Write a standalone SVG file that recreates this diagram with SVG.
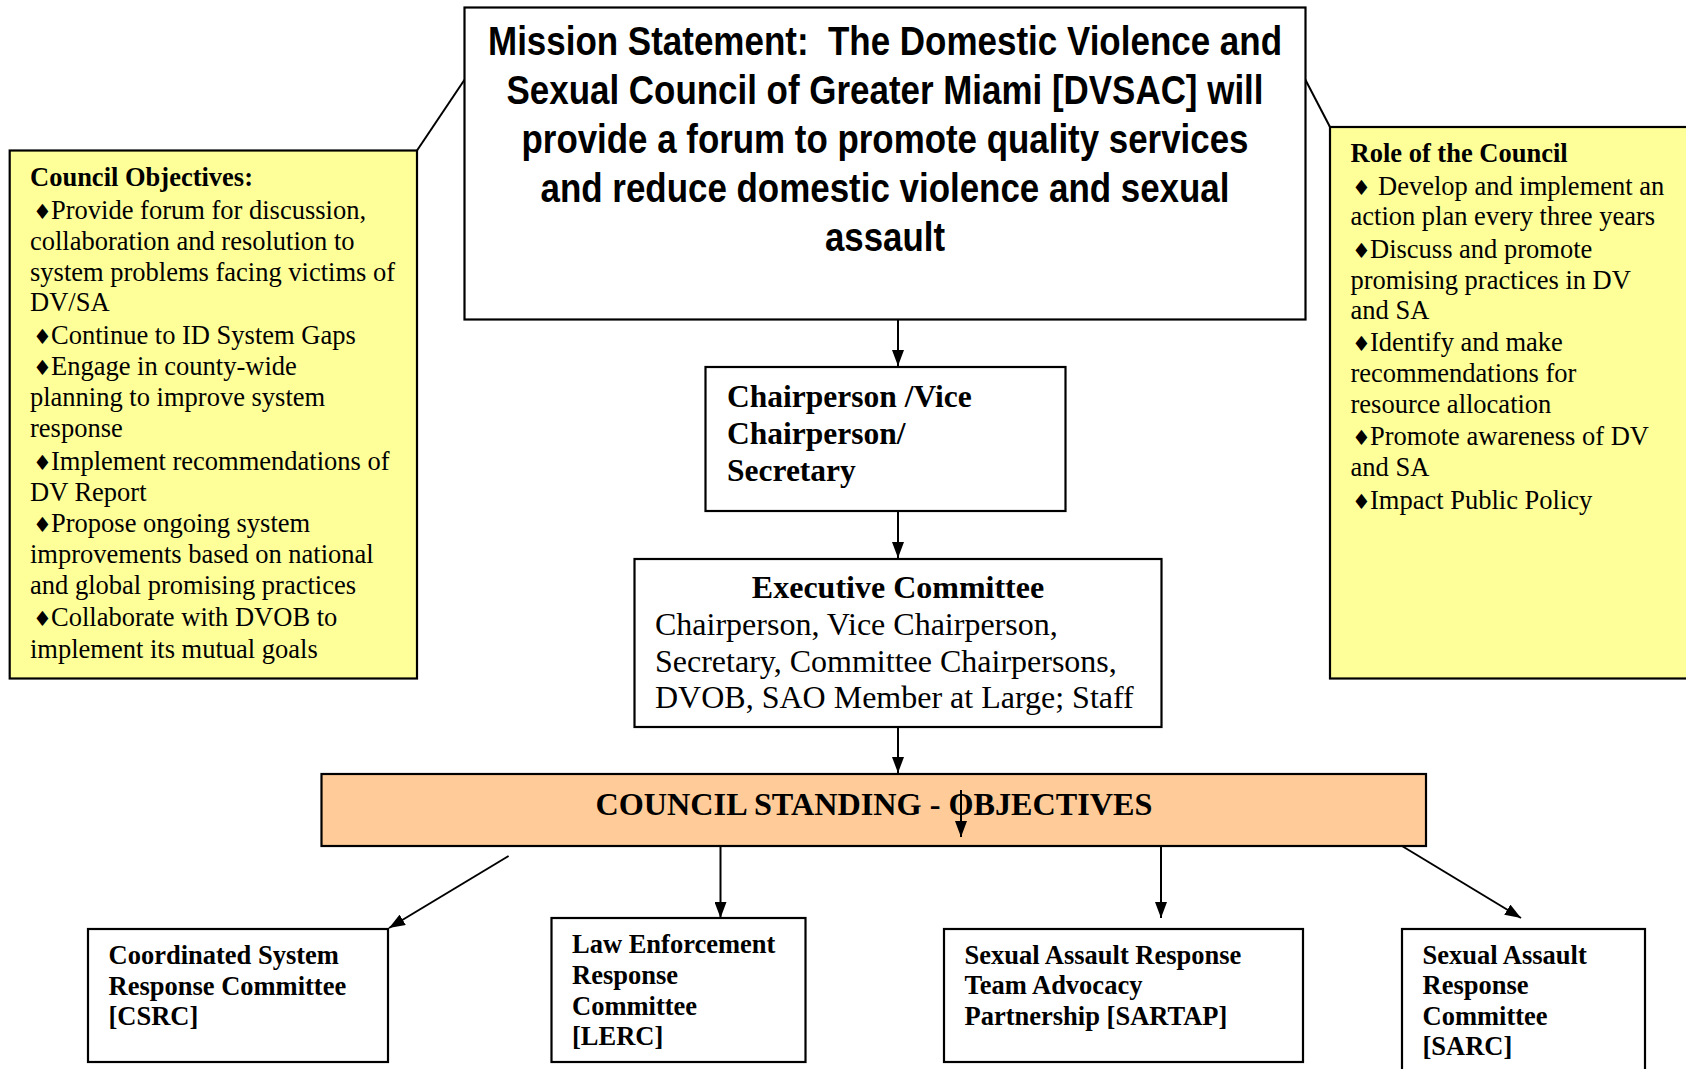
<svg xmlns="http://www.w3.org/2000/svg" width="1686" height="1069" viewBox="0 0 1686 1069">
<style>
.box{fill:#fff;stroke:#000;stroke-width:2.2}
.yel{fill:#FFFF99;stroke:#000;stroke-width:2.2}
.org{fill:#FFCC99;stroke:#000;stroke-width:2.2}
.ln{stroke:#000;stroke-width:2;fill:none}
.mis{font-family:"Liberation Sans Narrow","Liberation Sans",Arial,sans-serif;font-weight:bold;font-size:40px;fill:#000;text-anchor:middle}
.t{font-family:"Liberation Serif","Times New Roman",serif;font-size:26.5px;fill:#000}
.tb{font-family:"Liberation Serif","Times New Roman",serif;font-size:26.5px;font-weight:bold;fill:#000}
.cb{font-family:"Liberation Serif","Times New Roman",serif;font-size:31.5px;font-weight:bold;fill:#000}
.e{font-family:"Liberation Serif","Times New Roman",serif;font-size:32px;fill:#000}
.eb{font-family:"Liberation Serif","Times New Roman",serif;font-size:32px;font-weight:bold;fill:#000}
.bul{font-family:"DejaVu Sans",sans-serif;font-size:21px}
</style>
<defs>
<marker id="ah" viewBox="0 0 16 12" refX="16" refY="6" markerWidth="16" markerHeight="12" markerUnits="userSpaceOnUse" orient="auto">
<path d="M0,0 L16,6 L0,12 z" fill="#000"/>
</marker>
</defs>

<g id="connectors">
<line class="ln" x1="417" y1="150.5" x2="465" y2="79"/>
<line class="ln" x1="1305" y1="79" x2="1330" y2="127"/>
<line class="ln" x1="898" y1="320" x2="898" y2="366" marker-end="url(#ah)"/>
<line class="ln" x1="898" y1="511" x2="898" y2="558" marker-end="url(#ah)"/>
<line class="ln" x1="898" y1="727" x2="898" y2="773" marker-end="url(#ah)"/>
<line class="ln" x1="508.6" y1="856" x2="389" y2="928" marker-end="url(#ah)"/>
<line class="ln" x1="720.5" y1="847" x2="720.5" y2="918" marker-end="url(#ah)"/>
<line class="ln" x1="1161" y1="847" x2="1161" y2="918" marker-end="url(#ah)"/>
<line class="ln" x1="1402" y1="846" x2="1521" y2="918" marker-end="url(#ah)"/>
</g>

<g id="mission">
<rect class="box" x="464.5" y="7.5" width="841" height="312"/>
<text class="mis" x="885" y="55" textLength="794" lengthAdjust="spacingAndGlyphs">Mission Statement:&#160; The Domestic Violence and</text>
<text class="mis" x="885" y="104" textLength="757" lengthAdjust="spacingAndGlyphs">Sexual Council of Greater Miami [DVSAC] will</text>
<text class="mis" x="885" y="153" textLength="727" lengthAdjust="spacingAndGlyphs">provide a forum to promote quality services</text>
<text class="mis" x="885" y="202" textLength="689" lengthAdjust="spacingAndGlyphs">and reduce domestic violence and sexual</text>
<text class="mis" x="885" y="251" textLength="120" lengthAdjust="spacingAndGlyphs">assault</text>
</g>

<g id="council-objectives">
<rect class="yel" x="9.7" y="150.5" width="407.3" height="528"/>
<text class="tb" x="30" y="186">Council Objectives:</text>
<text class="t" x="33" y="218.5"><tspan class="bul">♦</tspan><tspan x="51">Provide forum for discussion,</tspan></text>
<text class="t" x="30" y="249.5">collaboration and resolution to</text>
<text class="t" x="30" y="280.5">system problems facing victims of</text>
<text class="t" x="30" y="311">DV/SA</text>
<text class="t" x="33" y="343.5"><tspan class="bul">♦</tspan><tspan x="51">Continue to ID System Gaps</tspan></text>
<text class="t" x="33" y="375"><tspan class="bul">♦</tspan><tspan x="51">Engage in county-wide</tspan></text>
<text class="t" x="30" y="406">planning to improve system</text>
<text class="t" x="30" y="437">response</text>
<text class="t" x="33" y="469.5"><tspan class="bul">♦</tspan><tspan x="51">Implement recommendations of</tspan></text>
<text class="t" x="30" y="500.5">DV Report</text>
<text class="t" x="33" y="532"><tspan class="bul">♦</tspan><tspan x="51">Propose ongoing system</tspan></text>
<text class="t" x="30" y="563">improvements based on national</text>
<text class="t" x="30" y="594">and global promising practices</text>
<text class="t" x="33" y="626"><tspan class="bul">♦</tspan><tspan x="51">Collaborate with DVOB to</tspan></text>
<text class="t" x="30" y="657.5">implement its mutual goals</text>
</g>

<g id="role-of-council">
<rect class="yel" x="1330" y="127" width="370" height="551.5"/>
<text class="tb" x="1350.5" y="161.5">Role of the Council</text>
<text class="t" x="1352" y="195"><tspan class="bul">♦</tspan><tspan x="1378">Develop and implement an</tspan></text>
<text class="t" x="1350.5" y="225">action plan every three years</text>
<text class="t" x="1352" y="258"><tspan class="bul">♦</tspan><tspan x="1370">Discuss and promote</tspan></text>
<text class="t" x="1350.5" y="288.5">promising practices in DV</text>
<text class="t" x="1350.5" y="319">and SA</text>
<text class="t" x="1352" y="351"><tspan class="bul">♦</tspan><tspan x="1370">Identify and make</tspan></text>
<text class="t" x="1350.5" y="382">recommendations for</text>
<text class="t" x="1350.5" y="413">resource allocation</text>
<text class="t" x="1352" y="445"><tspan class="bul">♦</tspan><tspan x="1370">Promote awareness of DV</tspan></text>
<text class="t" x="1350.5" y="475.5">and SA</text>
<text class="t" x="1352" y="509"><tspan class="bul">♦</tspan><tspan x="1370">Impact Public Policy</tspan></text>
</g>

<g id="chairperson">
<rect class="box" x="705.5" y="367" width="360" height="144"/>
<text class="cb" x="727" y="407">Chairperson /Vice</text>
<text class="cb" x="727" y="444">Chairperson/</text>
<text class="cb" x="727" y="481">Secretary</text>
</g>

<g id="executive-committee">
<rect class="box" x="634.5" y="559" width="527" height="168"/>
<text class="eb" x="898" y="598" text-anchor="middle">Executive Committee</text>
<text class="e" x="655" y="635">Chairperson, Vice Chairperson,</text>
<text class="e" x="655" y="672">Secretary, Committee Chairpersons,</text>
<text class="e" x="655" y="708">DVOB, SAO Member at Large; Staff</text>
</g>

<g id="standing-objectives">
<rect class="org" x="321.5" y="774" width="1104.5" height="72"/>
<text class="eb" x="874" y="815" text-anchor="middle" textLength="557" lengthAdjust="spacingAndGlyphs">COUNCIL STANDING - OBJECTIVES</text>
<line class="ln" x1="961" y1="790" x2="961" y2="837" marker-end="url(#ah)"/>
</g>

<g id="csrc">
<rect class="box" x="88" y="929" width="300" height="133"/>
<text class="tb" x="108.5" y="964">Coordinated System</text>
<text class="tb" x="108.5" y="995">Response Committee</text>
<text class="tb" x="108.5" y="1025">[CSRC]</text>
</g>

<g id="lerc">
<rect class="box" x="551.5" y="918" width="254" height="144"/>
<text class="tb" x="572" y="953">Law Enforcement</text>
<text class="tb" x="572" y="984">Response</text>
<text class="tb" x="572" y="1015">Committee</text>
<text class="tb" x="572" y="1045">[LERC]</text>
</g>

<g id="sartap">
<rect class="box" x="944" y="929" width="359" height="133"/>
<text class="tb" x="964.5" y="964">Sexual Assault Response</text>
<text class="tb" x="964.5" y="994">Team Advocacy</text>
<text class="tb" x="964.5" y="1025">Partnership [SARTAP]</text>
</g>

<g id="sarc">
<rect class="box" x="1402" y="929" width="243" height="160"/>
<text class="tb" x="1422.5" y="964">Sexual Assault</text>
<text class="tb" x="1422.5" y="994">Response</text>
<text class="tb" x="1422.5" y="1025">Committee</text>
<text class="tb" x="1422.5" y="1055">[SARC]</text>
</g>
</svg>
